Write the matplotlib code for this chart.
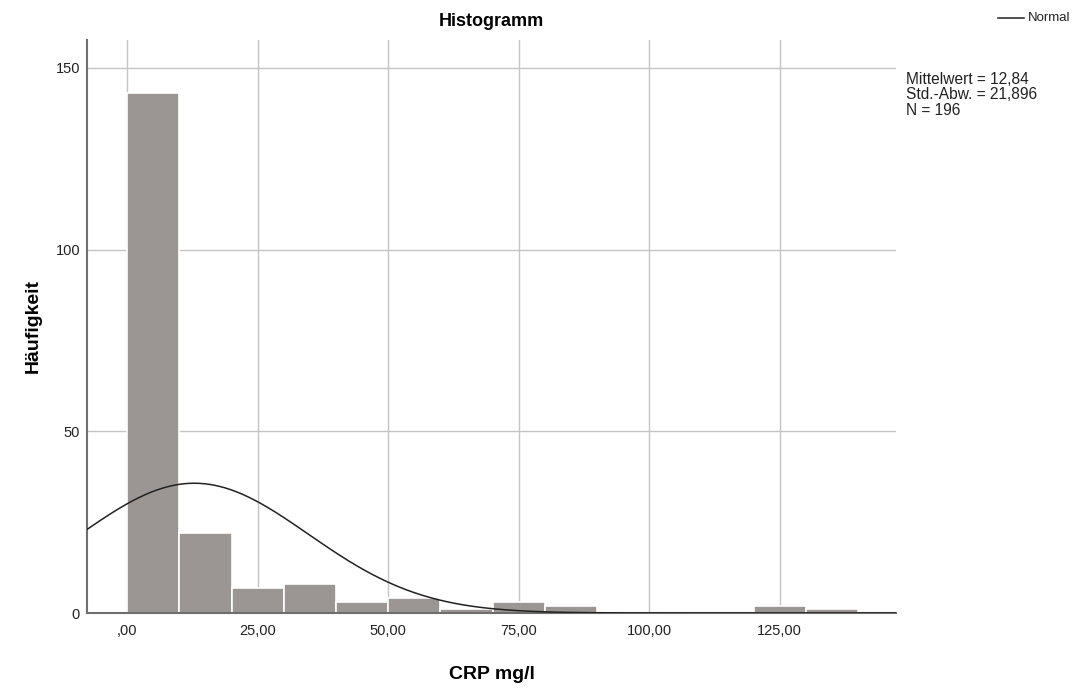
import matplotlib.pyplot as plt
import numpy as np

plt.rcParams['font.family'] = ['Liberation Sans', 'DejaVu Sans']

# CRP histogram counts, bins of width 10 starting at 0
bin_edges = [0, 10, 20, 30, 40, 50, 60, 70, 80, 90, 100, 110, 120, 130, 140]
counts = [143, 22, 7, 8, 3, 4, 1, 3, 2, 0, 0, 0, 2, 1]
mean = 12.84
std = 21.896
n = 196

x_ticks = [0, 25, 50, 75, 100, 125]
x_labels = [',00', '25,00', '50,00', '75,00', '100,00', '125,00']
y_ticks = [0, 50, 100, 150]

fig = plt.figure(figsize=(10.81, 6.89), dpi=100)
ax = fig.add_axes([0.0805, 0.1103, 0.7485, 0.8317])

left = bin_edges[:-1]
width = np.diff(bin_edges)
ax.bar(left, counts, width=width, align='edge', color='#9b9594',
       edgecolor='white', linewidth=1.2, zorder=2)

# normal curve scaled to counts
xs = np.linspace(-8, 148, 400)
binw = bin_edges[1] - bin_edges[0]
ys = n * binw / (std * np.sqrt(2 * np.pi)) * np.exp(-0.5 * ((xs - mean) / std) ** 2)
ax.plot(xs, ys, color='#222222', linewidth=1.1, zorder=3)

ax.set_xlim(-7.7, 147.3)
ax.set_ylim(0, 157.7)
ax.set_xticks(x_ticks)
ax.set_xticklabels(x_labels)
ax.set_yticks(y_ticks)
ax.tick_params(length=0, labelsize=10.5, colors='#222222')
ax.tick_params(axis='x', pad=8)
ax.tick_params(axis='y', pad=5)
ax.grid(True, color='#c4c4c4', linewidth=1, zorder=0)
ax.set_axisbelow(True)

for side in ['top', 'right']:
    ax.spines[side].set_visible(False)
for side in ['left', 'bottom']:
    ax.spines[side].set_color('#6e6e6e')
    ax.spines[side].set_linewidth(1.5)

ax.set_title('Histogramm', fontsize=13, fontweight='bold', pad=10)
ax.set_xlabel('CRP mg/l', fontsize=14, fontweight='bold', labelpad=20)
ax.set_ylabel('Häufigkeit', fontsize=14, fontweight='bold', labelpad=10)

# legend and summary statistics
fig.text(0.951, 0.974, 'Normal', fontsize=9.5, va='center', ha='left', color='#222222')
fig.lines.append(plt.Line2D([0.923, 0.947], [0.974, 0.974], transform=fig.transFigure,
                            color='#222222', linewidth=1.1))
fig.text(0.838, 0.896, 'Mittelwert = 12,84\nStd.-Abw. = 21,896\nN = 196',
         fontsize=11.2, va='top', ha='left', linespacing=1.05, color='#222222')

fig.savefig('out.png', dpi=100)
